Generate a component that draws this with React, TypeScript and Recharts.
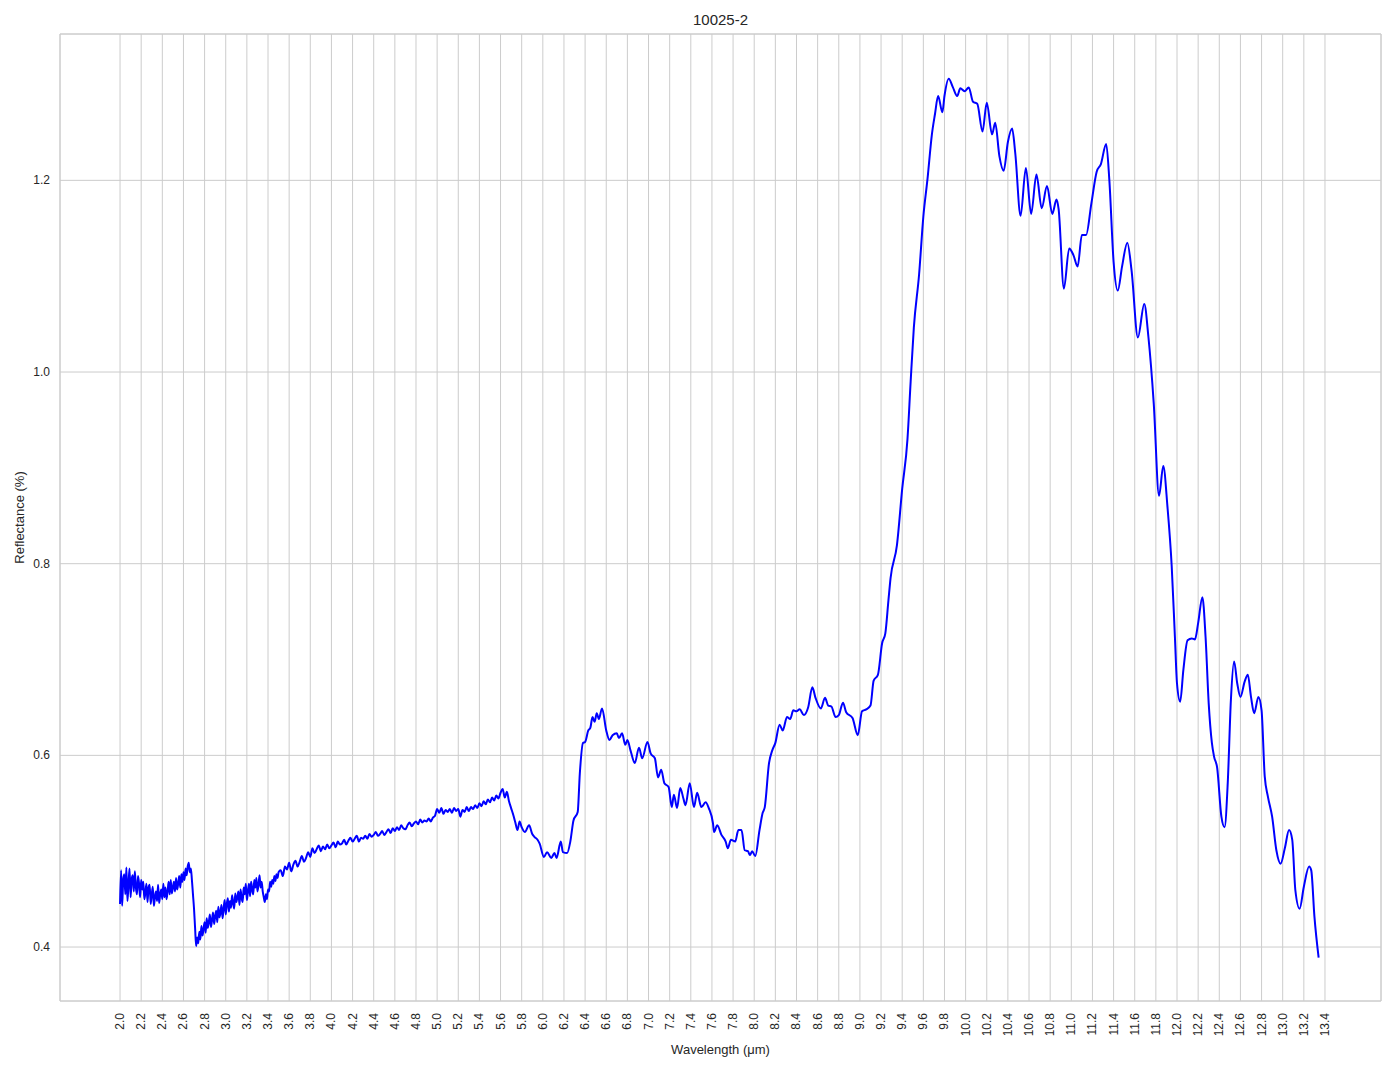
import { LineChart, Line, XAxis, YAxis, CartesianGrid, ReferenceArea } from "recharts";

// noisy part of the spectrum, 2.00 - 3.50 µm every 0.01 µm
const noiseStart = 2.0;
const noiseStep = 0.01;
const noiseReflectance = [
  0.445, 0.480, 0.443, 0.470, 0.476, 0.455, 0.483, 0.448, 0.466, 0.482, 0.452,
  0.471, 0.475, 0.458, 0.479, 0.462, 0.455, 0.474, 0.466, 0.452, 0.470,
  0.460, 0.468, 0.450, 0.457, 0.466, 0.447, 0.462, 0.465, 0.445, 0.455,
  0.463, 0.443, 0.452, 0.458, 0.448, 0.465, 0.446, 0.455, 0.460, 0.450,
  0.466, 0.452, 0.462, 0.450, 0.458, 0.468, 0.455, 0.470, 0.456, 0.462,
  0.468, 0.458, 0.472, 0.460, 0.466, 0.474, 0.462, 0.476, 0.468, 0.478,
  0.470, 0.482, 0.475, 0.484, 0.488, 0.478, 0.482, 0.470, 0.455, 0.440,
  0.420, 0.401, 0.410, 0.404, 0.416, 0.408, 0.422, 0.412, 0.419, 0.426,
  0.415, 0.430, 0.420, 0.426, 0.434, 0.421, 0.428, 0.436, 0.424, 0.432,
  0.438, 0.426, 0.442, 0.431, 0.436, 0.444, 0.430, 0.440, 0.449, 0.434,
  0.445, 0.451, 0.437, 0.448, 0.441, 0.454, 0.446, 0.440, 0.456, 0.447,
  0.452, 0.458, 0.444, 0.460, 0.451, 0.447, 0.462, 0.455, 0.466, 0.449,
  0.458, 0.466, 0.453, 0.468, 0.460, 0.455, 0.470, 0.462, 0.472, 0.458,
  0.465, 0.475, 0.462, 0.468, 0.458, 0.452, 0.447, 0.455, 0.450, 0.460,
  0.458, 0.468, 0.463, 0.470, 0.466, 0.474, 0.469, 0.476, 0.472, 0.478,
];

// 3.52 - 5.80 µm every 0.02 µm
const midStart = 3.52;
const midStep = 0.02;
const midReflectance = [
  0.480, 0.474, 0.484, 0.481, 0.488, 0.479, 0.486, 0.490, 0.484, 0.489,
  0.495, 0.489, 0.493, 0.499, 0.494, 0.503, 0.498, 0.502, 0.506, 0.500,
  0.505, 0.502, 0.507, 0.503, 0.506, 0.509, 0.504, 0.510, 0.507, 0.508,
  0.512, 0.507, 0.511, 0.514, 0.510, 0.513, 0.516, 0.510, 0.514, 0.513,
  0.516, 0.513, 0.518, 0.515, 0.517, 0.520, 0.516, 0.518, 0.521, 0.517,
  0.520, 0.523, 0.519, 0.524, 0.521, 0.525, 0.522, 0.527, 0.524, 0.523,
  0.527, 0.530, 0.526, 0.529, 0.531, 0.528, 0.533, 0.530, 0.532, 0.531,
  0.534, 0.531, 0.535, 0.537, 0.544, 0.540, 0.545, 0.539, 0.543, 0.541,
  0.544, 0.540, 0.545, 0.542, 0.544, 0.536, 0.543, 0.541, 0.546, 0.542,
  0.546, 0.544, 0.548, 0.545, 0.550, 0.547, 0.552, 0.549, 0.554, 0.551,
  0.556, 0.553, 0.558, 0.555, 0.561, 0.565, 0.556, 0.562, 0.552, 0.545,
  0.538, 0.530, 0.522, 0.531, 0.525,
];

// smoother part, read point by point
const smoothWavelength = [
  5.83, 5.87, 5.9, 5.92, 5.95, 5.97, 6.01, 6.04, 6.08, 6.11, 6.13, 6.17, 6.19, 6.23, 6.26, 6.29,
  6.33, 6.35, 6.38, 6.4, 6.43, 6.45, 6.47, 6.49, 6.51, 6.53, 6.56, 6.6, 6.63, 6.66, 6.7, 6.72,
  6.75, 6.78, 6.8, 6.83, 6.87, 6.91, 6.94, 6.99, 7.02, 7.06, 7.09, 7.12, 7.15, 7.19, 7.22, 7.24,
  7.27, 7.3, 7.33, 7.35, 7.39, 7.43, 7.46, 7.5, 7.54, 7.57, 7.61, 7.62, 7.65, 7.69, 7.73, 7.75,
  7.78, 7.82, 7.85, 7.88, 7.91, 7.94, 7.96, 7.98, 8.01, 8.05, 8.08, 8.1, 8.14, 8.17, 8.2, 8.24,
  8.27, 8.31, 8.34, 8.37, 8.4, 8.43, 8.47, 8.51, 8.55, 8.58, 8.63, 8.67, 8.7, 8.73, 8.77, 8.8,
  8.84, 8.87, 8.93, 8.98, 9.02, 9.06, 9.1, 9.13, 9.17, 9.21, 9.24, 9.27, 9.29, 9.35, 9.4, 9.45,
  9.48, 9.51, 9.56, 9.6, 9.64, 9.68, 9.71, 9.74, 9.78, 9.8, 9.84, 9.88, 9.92, 9.95, 9.99, 10.03,
  10.07, 10.11, 10.16, 10.2, 10.25, 10.28, 10.32, 10.36, 10.4, 10.44, 10.47, 10.52, 10.57, 10.62, 10.67, 10.72,
  10.77, 10.82, 10.86, 10.88, 10.93, 10.98, 11.02, 11.06, 11.1, 11.14, 11.19, 11.24, 11.28, 11.33, 11.36, 11.4,
  11.44, 11.48, 11.53, 11.57, 11.63, 11.69, 11.73, 11.78, 11.83, 11.87, 11.91, 11.95, 11.98, 12.0, 12.03, 12.06,
  12.1, 12.14, 12.17, 12.2, 12.24, 12.27, 12.3, 12.33, 12.35, 12.38, 12.42, 12.45, 12.48, 12.51, 12.54, 12.57,
  12.6, 12.64, 12.67, 12.7, 12.73, 12.77, 12.8, 12.83, 12.86, 12.9, 12.94, 12.98, 13.02, 13.06, 13.09, 13.12,
  13.16, 13.2, 13.25, 13.27, 13.3, 13.34,
];
const smoothReflectance = [
  0.520, 0.527, 0.518, 0.515, 0.512, 0.508, 0.494, 0.499, 0.493, 0.498, 0.493, 0.510, 0.499, 0.498, 0.510, 0.532,
  0.541, 0.581, 0.613, 0.614, 0.626, 0.629, 0.640, 0.635, 0.644, 0.638, 0.649, 0.626, 0.616, 0.621, 0.623, 0.618,
  0.623, 0.611, 0.616, 0.605, 0.592, 0.608, 0.597, 0.614, 0.602, 0.597, 0.577, 0.585, 0.571, 0.567, 0.546, 0.559,
  0.545, 0.566, 0.555, 0.548, 0.571, 0.546, 0.561, 0.546, 0.551, 0.545, 0.529, 0.520, 0.527, 0.517, 0.510, 0.503,
  0.512, 0.510, 0.522, 0.522, 0.501, 0.500, 0.496, 0.500, 0.495, 0.522, 0.540, 0.546, 0.592, 0.605, 0.613, 0.632,
  0.626, 0.640, 0.638, 0.647, 0.646, 0.648, 0.642, 0.650, 0.671, 0.660, 0.649, 0.660, 0.652, 0.651, 0.640, 0.642,
  0.655, 0.645, 0.639, 0.621, 0.646, 0.648, 0.652, 0.678, 0.684, 0.717, 0.727, 0.762, 0.785, 0.819, 0.878, 0.930,
  0.990, 1.046, 1.102, 1.162, 1.202, 1.247, 1.269, 1.288, 1.271, 1.288, 1.306, 1.297, 1.288, 1.296, 1.293, 1.297,
  1.282, 1.280, 1.251, 1.281, 1.248, 1.260, 1.225, 1.210, 1.240, 1.254, 1.228, 1.163, 1.213, 1.165, 1.206, 1.171,
  1.194, 1.165, 1.180, 1.170, 1.087, 1.129, 1.122, 1.110, 1.143, 1.143, 1.176, 1.209, 1.217, 1.238, 1.200, 1.115,
  1.085, 1.110, 1.135, 1.106, 1.036, 1.071, 1.036, 0.967, 0.871, 0.902, 0.859, 0.797, 0.724, 0.675, 0.656, 0.689,
  0.720, 0.722, 0.721, 0.738, 0.765, 0.724, 0.654, 0.613, 0.599, 0.587, 0.536, 0.525, 0.571, 0.658, 0.698, 0.675,
  0.661, 0.677, 0.684, 0.661, 0.644, 0.661, 0.647, 0.578, 0.557, 0.536, 0.501, 0.487, 0.503, 0.522, 0.512, 0.459,
  0.440, 0.463, 0.484, 0.480, 0.432, 0.389,
];

const xTicks = [
  2.0, 2.2, 2.4, 2.6, 2.8, 3.0, 3.2, 3.4, 3.6, 3.8, 4.0, 4.2, 4.4, 4.6, 4.8, 5.0, 5.2, 5.4, 5.6, 5.8,
  6.0, 6.2, 6.4, 6.6, 6.8, 7.0, 7.2, 7.4, 7.6, 7.8, 8.0, 8.2, 8.4, 8.6, 8.8, 9.0, 9.2, 9.4, 9.6, 9.8,
  10.0, 10.2, 10.4, 10.6, 10.8, 11.0, 11.2, 11.4, 11.6, 11.8, 12.0, 12.2, 12.4, 12.6, 12.8, 13.0, 13.2, 13.4,
];
const yTicks = [0.4, 0.6, 0.8, 1.0, 1.2];

const xDomain: [number, number] = [1.432, 13.93];
const yDomain: [number, number] = [0.3437, 1.3527];

const data = [
  ...noiseReflectance.map((r, i) => ({ x: +(noiseStart + i * noiseStep).toFixed(2), r })),
  ...midReflectance.map((r, i) => ({ x: +(midStart + i * midStep).toFixed(2), r })),
  ...smoothWavelength.map((x, i) => ({ x, r: smoothReflectance[i] })),
];

const font = "'Liberation Sans', Arial, sans-serif";
const textColor = "#262626";
const gridColor = "#cccccc";

function XTick({ x, y, payload }: any) {
  return (
    <text
      x={x}
      y={y}
      transform={`rotate(-90, ${x}, ${y})`}
      textAnchor="end"
      dominantBaseline="central"
      fontSize={12}
      fontFamily={font}
      fill={textColor}
    >
      {Number(payload.value).toFixed(1)}
    </text>
  );
}

function YTick({ x, y, payload }: any) {
  return (
    <text x={x} y={y} textAnchor="end" dominantBaseline="central" fontSize={12} fontFamily={font} fill={textColor}>
      {Number(payload.value).toFixed(1)}
    </text>
  );
}

export default function App() {
  return (
    <div style={{ position: "absolute", left: 0, top: 0, width: 1394, height: 1069, background: "#fff" }}>
      <div
        style={{
          position: "absolute",
          left: 60,
          top: 11,
          width: 1321,
          textAlign: "center",
          fontFamily: font,
          fontSize: 15,
          lineHeight: "18px",
          color: textColor,
        }}
      >
        10025-2
      </div>
      <LineChart width={1394} height={1069} data={data} margin={{ top: 34, right: 13, left: 0, bottom: 0 }}>
        <CartesianGrid stroke={gridColor} strokeWidth={1} />
        <ReferenceArea
          x1={xDomain[0]}
          x2={xDomain[1]}
          y1={yDomain[0]}
          y2={yDomain[1]}
          fill="none"
          stroke={gridColor}
          strokeWidth={1}
          ifOverflow="visible"
        />
        <XAxis
          dataKey="x"
          type="number"
          domain={xDomain}
          ticks={xTicks}
          interval={0}
          allowDataOverflow
          height={68}
          tickLine={false}
          axisLine={false}
          tickSize={0}
          tickMargin={12}
          tick={<XTick />}
          label={{
            value: "Wavelength (μm)",
            position: "insideBottom",
            offset: 15,
            style: { fontFamily: font, fontSize: 13, fill: textColor },
          }}
        />
        <YAxis
          type="number"
          domain={yDomain}
          ticks={yTicks}
          allowDataOverflow
          width={60}
          tickLine={false}
          axisLine={false}
          tickSize={0}
          tickMargin={10}
          tick={<YTick />}
          label={{
            value: "Reflectance (%)",
            angle: -90,
            position: "insideLeft",
            offset: 19,
            style: { fontFamily: font, fontSize: 13, fill: textColor, textAnchor: "middle" },
          }}
        />
        <Line
          dataKey="r"
          type="monotone"
          stroke="#0000ff"
          strokeWidth={2}
          dot={false}
          isAnimationActive={false}
        />
      </LineChart>
    </div>
  );
}
